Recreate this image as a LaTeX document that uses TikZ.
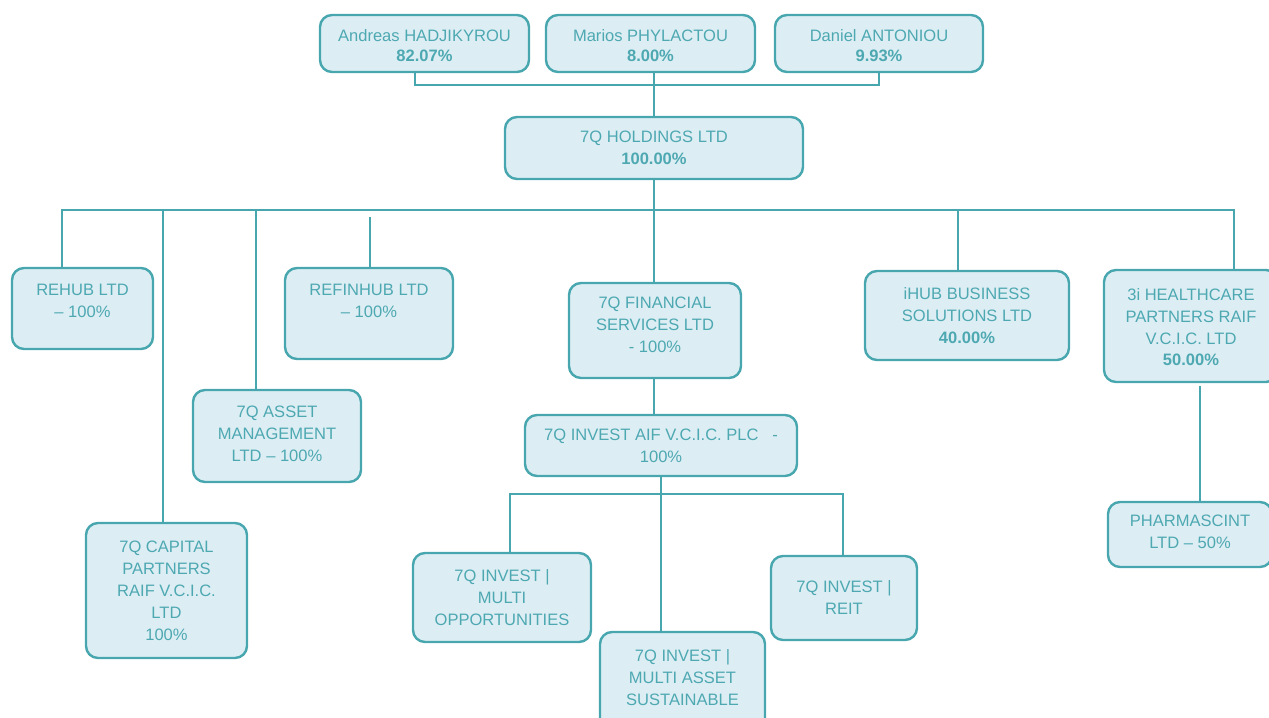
\documentclass[tikz,border=0pt]{standalone}
\usepackage{fontspec}
\setmainfont{Liberation Sans}
\usetikzlibrary{positioning,fit}
\definecolor{tealline}{RGB}{72,166,175}
\definecolor{tealfill}{RGB}{220,238,243}
\definecolor{tealtext}{RGB}{78,168,178}
\tikzset{
  orgbox/.style={draw=tealline, fill=tealfill, line width=1.8pt, rounded corners=9pt, inner sep=0pt},
  orgtxt/.style={inner sep=0pt, yshift=-1pt, align=center, text=tealtext, font=\fontsize{12.4}{16.4}\selectfont},
  orgline/.style={draw=tealline, line width=1.5pt},
}
\begin{document}
\begin{tikzpicture}[x=0.75pt, y=-0.75pt]
\useasboundingbox (0,0) rectangle (1269,717);
% owners
\node[orgbox, fit={(320,15) (529,72)}] (P_0_0) {};
\node[orgtxt, below=10.5pt of P_0_0.north] (T_0_0) {Andreas HADJIKYROU\\[-1.5pt]\textbf{82.07\%}};
\node[orgbox, fit={(546,15) (755,72)}] (P_0_1) {};
\node[orgtxt, below=10.5pt of P_0_1.north] (T_0_1) {Marios PHYLACTOU\\[-1.5pt]\textbf{8.00\%}};
\node[orgbox, fit={(775,15) (983,72)}] (P_0_2) {};
\node[orgtxt, below=10.5pt of P_0_2.north] (T_0_2) {Daniel ANTONIOU\\[-1.5pt]\textbf{9.93\%}};
% holding
\node[orgbox, fit={(505,117) (803,179)}] (P_1_0) {};
\node[orgtxt, below=10.5pt of P_1_0.north] (T_1_0) {7Q HOLDINGS LTD\\\textbf{100.00\%}};
% subsidiaries
\node[orgbox, fit={(12,268) (153,349)}] (P_2_0) {};
\node[orgtxt, below=12pt of P_2_0.north] (T_2_0) {REHUB LTD\\– 100\%};
\node[orgbox, fit={(86,523) (247,658)}] (P_2_1) {};
\node[orgtxt, below=13.5pt of P_2_1.north] (T_2_1) {7Q CAPITAL\\PARTNERS\\RAIF V.C.I.C.\\LTD\\100\%};
\node[orgbox, fit={(193,390) (361,482)}] (P_2_2) {};
\node[orgtxt, below=12pt of P_2_2.north] (T_2_2) {7Q ASSET\\MANAGEMENT\\LTD – 100\%};
\node[orgbox, fit={(285,268) (453,359)}] (P_2_3) {};
\node[orgtxt, below=12pt of P_2_3.north] (T_2_3) {REFINHUB LTD\\– 100\%};
\node[orgbox, fit={(569,283) (741,378)}] (P_2_4) {};
\node[orgtxt, below=10.5pt of P_2_4.north] (T_2_4) {7Q FINANCIAL\\SERVICES LTD\\- 100\%};
\node[orgbox, fit={(865,271) (1069,360)}] (P_2_5) {};
\node[orgtxt, below=12pt of P_2_5.north] (T_2_5) {iHUB BUSINESS\\SOLUTIONS LTD\\\textbf{40.00\%}};
\node[orgbox, fit={(1104,270) (1278,382)}] (P_2_6) {};
\node[orgtxt, below=13.5pt of P_2_6.north] (T_2_6) {3i HEALTHCARE\\PARTNERS RAIF\\V.C.I.C. LTD\\\textbf{50.00\%}};
% third level
\node[orgbox, fit={(525,415) (797,476)}] (P_3_0) {};
\node[orgtxt, below=10.5pt of P_3_0.north] (T_3_0) {7Q INVEST AIF V.C.I.C. PLC\ \ \ -\\100\%};
\node[orgbox, fit={(1108,502) (1272,567)}] (P_3_1) {};
\node[orgtxt, below=9.75pt of P_3_1.north] (T_3_1) {PHARMASCINT\\LTD – 50\%};
% funds
\node[orgbox, fit={(413,553) (591,642)}] (P_4_0) {};
\node[orgtxt, below=12pt of P_4_0.north] (T_4_0) {7Q INVEST |\\MULTI\\OPPORTUNITIES};
\node[orgbox, fit={(600,632) (765,730)}] (P_4_1) {};
\node[orgtxt, below=12.75pt of P_4_1.north] (T_4_1) {7Q INVEST |\\MULTI ASSET\\SUSTAINABLE};
\node[orgbox, fit={(771,556) (917,640)}] (P_4_2) {};
\node[orgtxt, below=18pt of P_4_2.north] (T_4_2) {7Q INVEST |\\REIT};
% connectors
\coordinate (J_0_0) at (415,85);
\coordinate (J_0_2) at (879,85);
\draw[orgline] (P_0_0.south -| J_0_0) -- (J_0_0) -- (J_0_2) -- (P_0_2.south -| J_0_2);
\draw[orgline] (P_0_1.south -| P_1_0.north) -- (P_1_0.north);
\coordinate (J_2_0) at (62,210);
\coordinate (J_2_1) at (163,210);
\coordinate (J_2_2) at (256,210);
\coordinate (J_2_3) at (370,217);
\coordinate (J_2_5) at (958,210);
\coordinate (J_2_6) at (1234,210);
\draw[orgline] (P_1_0.south) -- (P_1_0.south |- J_2_0);
\draw[orgline] (J_2_0 |- P_2_0.north) -- (J_2_0) -- (J_2_6) -- (J_2_6 |- P_2_6.north);
\draw[orgline] (J_2_1) -- (J_2_1 |- P_2_1.north);
\draw[orgline] (J_2_2) -- (J_2_2 |- P_2_2.north);
\draw[orgline] (J_2_3) -- (J_2_3 |- P_2_3.north);
\draw[orgline] (P_1_0.south |- J_2_0) -- (P_1_0.south |- P_2_4.north);
\draw[orgline] (J_2_5) -- (J_2_5 |- P_2_5.north);
\draw[orgline] (P_2_4.south -| P_1_0.south) -- (P_3_0.north -| P_1_0.south);
\coordinate (J_3_1) at (1200,386);
\draw[orgline] (J_3_1) -- (J_3_1 |- P_3_1.north);
\coordinate (J_4_0) at (510,494);
\coordinate (J_4_2) at (843,494);
\draw[orgline] (J_4_0 |- P_4_0.north) -- (J_4_0) -- (J_4_2) -- (J_4_2 |- P_4_2.north);
\draw[orgline] (P_3_0.south) -- (P_3_0.south |- P_4_1.north);
\end{tikzpicture}
\end{document}
